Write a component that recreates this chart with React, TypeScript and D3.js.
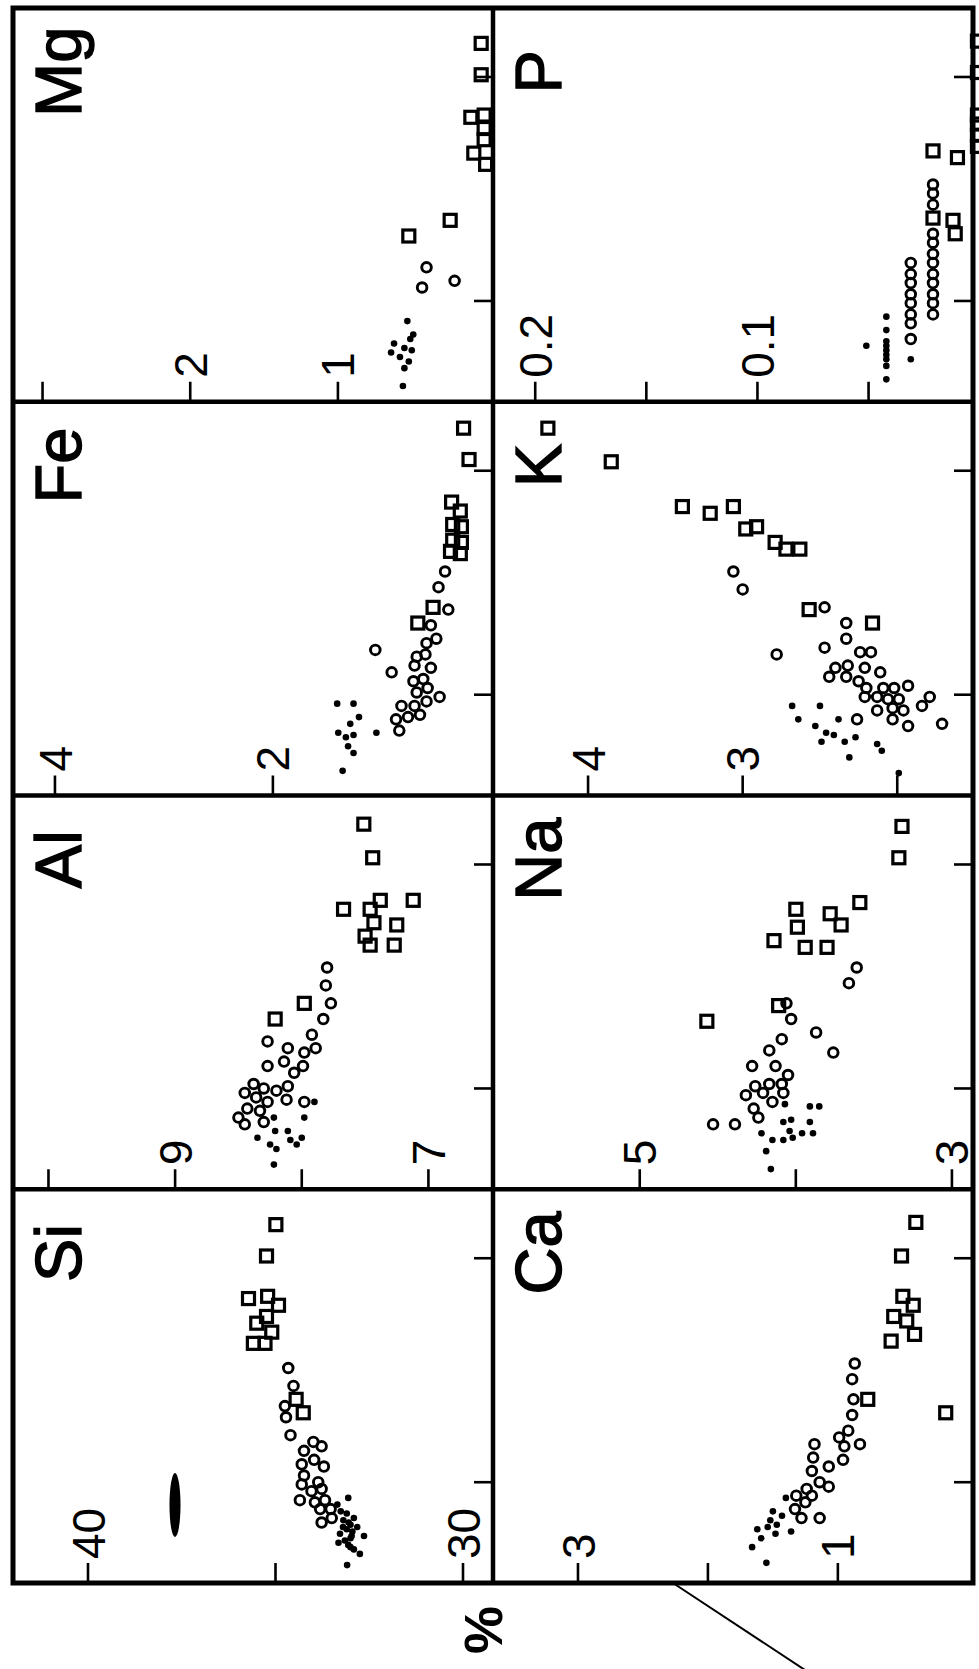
import * as d3 from 'd3'

// Rotated figure: 8 element panels (wt %) against a shared, unlabelled x variable.
// Values. Each point is [x, value].

const elements = ['Si', 'Al', 'Fe', 'Mg', 'Ca', 'Na', 'K', 'P']

const yDomains = [
  [42, 29.2], [10.28, 6.49], [4.385, -0.02], [3.2, -0.05],
  [3.654, -0.04], [5.94, 2.865], [4.615, 1.51], [0.219, 0.003],
]
const yTicks = [
  [40, 35, 30], [10, 9, 8, 7], [4, 2], [3, 2, 1],
  [3, 2, 1], [5, 4, 3], [4, 3, 2], [0.2, 0.15, 0.1, 0.05],
]
const yTickLabels = [
  [40, 30], [9, 7], [4, 2], [2, 1],
  [3, 1], [5, 3], [4, 3], [0.2, 0.1],
]
const xDomain = [0.55, 2.308]
const xTicks = [1, 2]

const siSquares = [[2.15, 34.99], [2.01, 35.24], [1.82, 35.72], [1.83, 35.21], [1.79, 34.92], [1.71, 35.5], [1.74, 35.24], [1.67, 35.1], [1.62, 35.59], [1.62, 35.28], [1.31, 34.26], [1.37, 34.45]]
const siCircles = [[1.51, 34.66], [1.43, 34.52], [1.34, 34.75], [1.29, 34.72], [1.21, 34.6], [1.18, 33.99], [1.14, 34.24], [1.16, 33.77], [1.08, 34.3], [1.1, 33.97], [1.07, 33.71], [1.03, 34.24], [1.0, 33.86], [0.99, 34.3], [0.96, 34.04], [0.97, 33.77], [0.92, 34.35], [0.91, 33.95], [0.92, 33.68], [0.88, 33.81], [0.88, 33.53], [0.82, 33.77], [0.84, 33.5]]
const siDots = [[0.93, 33.06], [0.9, 33.35], [0.87, 33.26], [0.86, 33.1], [0.84, 32.91], [0.83, 33.19], [0.81, 33.0], [0.8, 32.82], [0.79, 33.1], [0.77, 33.28], [0.76, 32.97], [0.76, 32.64], [0.74, 33.15], [0.73, 33.32], [0.72, 33.06], [0.7, 32.91], [0.63, 33.09], [0.78, 32.95], [0.82, 33.05], [0.75, 33.0], [0.8, 33.2], [0.71, 33.0], [0.68, 32.75]]

const alSquares = [[2.18, 7.51], [2.03, 7.44], [1.8, 7.67], [1.84, 7.38], [1.84, 7.12], [1.8, 7.46], [1.74, 7.43], [1.73, 7.25], [1.68, 7.5], [1.64, 7.46], [1.64, 7.27], [1.31, 8.21], [1.38, 7.98]]
const alCircles = [[1.54, 7.8], [1.46, 7.81], [1.38, 7.77], [1.31, 7.83], [1.24, 7.92], [1.21, 8.27], [1.18, 7.89], [1.18, 8.11], [1.16, 7.98], [1.1, 8.27], [1.12, 8.14], [1.07, 8.06], [1.1, 7.99], [1.02, 8.38], [1.0, 8.3], [0.99, 8.2], [1.01, 8.11], [0.98, 8.45], [0.96, 8.36], [0.94, 8.27], [0.95, 8.12], [0.91, 8.43], [0.9, 8.33], [0.87, 8.5], [0.84, 8.45], [0.85, 8.3], [0.94, 7.98]]
const alDots = [[0.87, 8.22], [0.78, 8.35], [0.81, 8.21], [0.75, 8.25], [0.73, 8.2], [0.81, 8.11], [0.77, 8.09], [0.75, 8.04], [0.78, 8.0], [0.87, 7.98], [0.94, 7.9], [0.66, 8.22]]

const feSquares = [[2.19, 0.25], [2.05, 0.2], [1.86, 0.36], [1.82, 0.28], [1.76, 0.35], [1.75, 0.27], [1.69, 0.35], [1.68, 0.27], [1.64, 0.37], [1.63, 0.28], [1.32, 0.67], [1.39, 0.53]]
const feCircles = [[1.55, 0.42], [1.48, 0.48], [1.38, 0.39], [1.31, 0.55], [1.25, 0.5], [1.23, 0.59], [1.17, 0.68], [1.18, 0.6], [1.13, 0.7], [1.12, 0.55], [1.07, 0.62], [1.06, 0.71], [0.99, 0.47], [1.03, 0.58], [1.01, 0.68], [0.95, 0.82], [0.95, 0.7], [0.97, 0.59], [0.89, 0.87], [0.9, 0.76], [0.91, 0.65], [0.84, 0.84], [1.2, 1.06], [1.1, 0.91]]
const feDots = [[0.96, 1.41], [0.96, 1.26], [0.9, 1.21], [0.87, 1.29], [0.83, 1.4], [0.81, 1.33], [0.82, 1.26], [0.83, 1.05], [0.77, 1.31], [0.74, 1.26], [0.66, 1.36]]

const mgSquares = [[2.15, 0.03], [2.01, 0.03], [1.82, 0.1], [1.83, 0.01], [1.77, 0.01], [1.72, 0.01], [1.66, 0.08], [1.61, 0.0], [1.36, 0.24], [1.29, 0.52]]
const mgCircles = [[1.15, 0.4], [1.06, 0.43], [1.09, 0.21]]
const mgDots = [[0.91, 0.53], [0.85, 0.49], [0.81, 0.62], [0.79, 0.55], [0.78, 0.5], [0.77, 0.64], [0.75, 0.58], [0.73, 0.52], [0.7, 0.55], [0.62, 0.56], [0.83, 0.51]]

const caSquares = [[2.16, 0.4], [2.01, 0.51], [1.83, 0.5], [1.79, 0.42], [1.74, 0.57], [1.72, 0.47], [1.66, 0.41], [1.63, 0.59], [1.37, 0.77], [1.31, 0.17]]
const caCircles = [[1.53, 0.87], [1.46, 0.89], [1.37, 0.88], [1.3, 0.89], [1.23, 0.92], [1.2, 0.99], [1.17, 0.83], [1.16, 0.95], [1.1, 0.96], [1.17, 1.18], [1.11, 1.19], [1.07, 1.07], [1.05, 1.2], [1.0, 1.14], [0.98, 1.07], [0.97, 1.24], [0.94, 1.32], [0.94, 1.2], [0.91, 1.25], [0.88, 1.33], [0.84, 1.28], [0.84, 1.14]]
const caDots = [[0.93, 1.4], [0.87, 1.5], [0.85, 1.43], [0.83, 1.52], [0.81, 1.47], [0.79, 1.62], [0.8, 1.54], [0.77, 1.48], [0.78, 1.36], [0.75, 1.59], [0.71, 1.66], [0.64, 1.55]]

const naSquares = [[2.17, 3.32], [2.03, 3.34], [1.83, 3.59], [1.8, 4.0], [1.72, 3.99], [1.78, 3.78], [1.73, 3.71], [1.66, 4.14], [1.63, 3.94], [1.63, 3.8], [1.37, 4.11], [1.3, 4.57]]
const naCircles = [[1.54, 3.61], [1.47, 3.66], [1.38, 4.06], [1.31, 4.03], [1.25, 3.87], [1.16, 3.76], [1.22, 4.09], [1.17, 4.17], [1.1, 4.28], [1.1, 4.13], [1.06, 4.05], [1.02, 4.17], [1.02, 4.09], [1.01, 4.26], [0.97, 4.32], [0.98, 4.21], [0.94, 4.15], [0.98, 4.08], [0.91, 4.27], [0.87, 4.24], [0.84, 4.53], [0.84, 4.39]]
const naDots = [[0.93, 4.07], [0.92, 3.91], [0.92, 3.85], [0.85, 3.91], [0.85, 4.08], [0.86, 4.03], [0.81, 4.04], [0.8, 3.96], [0.8, 3.89], [0.8, 4.22], [0.77, 4.15], [0.77, 4.08], [0.72, 4.19], [0.64, 4.16], [0.78, 4.02]]

const kSquares = [[2.19, 4.26], [2.04, 3.85], [1.84, 3.39], [1.81, 3.21], [1.84, 3.06], [1.74, 2.98], [1.75, 2.91], [1.68, 2.79], [1.65, 2.72], [1.65, 2.63], [1.38, 2.57], [1.32, 2.16]]
const kCircles = [[1.55, 3.06], [1.47, 3.0], [1.39, 2.47], [1.32, 2.33], [1.25, 2.33], [1.21, 2.47], [1.18, 2.78], [1.19, 2.24], [1.19, 2.17], [1.12, 2.4], [1.13, 2.32], [1.08, 2.44], [1.08, 2.33], [1.12, 2.21], [1.06, 2.25], [1.1, 2.11], [1.03, 2.2], [1.03, 2.09], [1.03, 2.02], [1.04, 1.93], [0.99, 2.21], [0.99, 2.13], [0.98, 2.06], [0.98, 1.99], [0.93, 2.13], [0.94, 2.03], [0.93, 1.96], [0.95, 1.84], [0.99, 1.79], [0.89, 2.03], [0.89, 2.26], [0.86, 1.93], [0.87, 1.71]]
const kDots = [[0.95, 2.68], [0.89, 2.64], [0.95, 2.5], [0.86, 2.53], [0.83, 2.46], [0.82, 2.41], [0.89, 2.38], [0.79, 2.49], [0.79, 2.34], [0.81, 2.27], [0.72, 2.31], [0.78, 2.13], [0.75, 2.1], [0.65, 1.99]]

const pSquares = [[1.67, 0.021], [1.64, 0.01], [1.37, 0.021], [1.36, 0.012], [1.3, 0.011], [2.16, 0.001], [2.02, 0.001], [1.83, 0.001], [1.79, 0.001], [1.74, 0.001], [1.69, 0.001]]
const pCircles = [[1.52, 0.021], [1.48, 0.021], [1.43, 0.021], [1.3, 0.021], [1.26, 0.021], [1.21, 0.021], [1.17, 0.021], [1.12, 0.021], [1.08, 0.021], [1.03, 0.021], [0.99, 0.021], [0.94, 0.021], [1.17, 0.031], [1.12, 0.031], [1.08, 0.031], [1.03, 0.031], [0.99, 0.031], [0.94, 0.031], [0.9, 0.031], [0.83, 0.031]]
const pDots = [[0.93, 0.042], [0.87, 0.042], [0.82, 0.042], [0.8, 0.042], [0.78, 0.042], [0.76, 0.042], [0.74, 0.042], [0.71, 0.042], [0.65, 0.042], [0.8, 0.051], [0.74, 0.031]]

const squares = [siSquares, alSquares, feSquares, mgSquares, caSquares, naSquares, kSquares, pSquares]
const circles = [siCircles, alCircles, feCircles, mgCircles, caCircles, naCircles, kCircles, pCircles]
const dots = [siDots, alDots, feDots, mgDots, caDots, naDots, kDots, pDots]

const W = 979
const H = 1669
// unrotated frame size
const FW = 1575
const FH = 960
const PW = FW / 4
const PH = FH / 2
const FONT = 'Liberation Sans, Arial, Helvetica, sans-serif'

function Panel({ i }: { i: number }) {
  const col = i % 4
  const row = Math.floor(i / 4)
  const x = d3.scaleLinear().domain(xDomain).range([0, PW])
  const y = d3.scaleLinear().domain(yDomains[i]).range([0, PH])
  const fmt = (v: number) => (v < 1 ? d3.format('.1f')(v) : String(v))

  return (
    <g transform={`translate(${col * PW},${row * PH})`}>
      {yTicks[i].map(t => (
        <line key={'yt' + t} x1={0} x2={20} y1={y(t)} y2={y(t)} stroke="#000" strokeWidth={2.6} />
      ))}
      {yTickLabels[i].map(t => (
        <text key={'yl' + t} x={24} y={y(t)} dy="0.36em" fontSize={46} fontFamily={FONT}>
          {fmt(t)}
        </text>
      ))}
      {xTicks.map(t => (
        <line key={'xt' + t} x1={x(t)} x2={x(t)} y1={PH} y2={PH - 19} stroke="#000" strokeWidth={2.6} />
      ))}
      <text x={330} y={68} textAnchor="middle" fontSize={65} fontFamily={FONT}
        stroke="#000" strokeWidth={1.4}>
        {elements[i]}
      </text>
      {squares[i].map((d, k) => (
        <rect key={'s' + k} x={x(d[0]) - 6} y={y(d[1]) - 6} width={12} height={12}
          fill="none" stroke="#000" strokeWidth={3.2} />
      ))}
      {circles[i].map((d, k) => (
        <circle key={'c' + k} cx={x(d[0])} cy={y(d[1])} r={4.8} fill="none" stroke="#000" strokeWidth={2.9} />
      ))}
      {dots[i].map((d, k) => (
        <circle key={'d' + k} cx={x(d[0])} cy={y(d[1])} r={3.3} fill="#000" />
      ))}
    </g>
  )
}

export default function App() {
  return (
    <svg width={W} height={H} viewBox={`0 0 ${W} ${H}`}
      style={{ position: 'absolute', left: 0, top: 0, background: '#fff' }}>
      <rect width={W} height={H} fill="#fff" />
      <g transform="translate(13,1583) rotate(-90)">
        {elements.map((_, i) => <Panel key={i} i={i} />)}
        {/* ink smudge on the scan */}
        <ellipse cx={78} cy={162} rx={32} ry={5.5} fill="#000" />
        {/* frame */}
        <rect x={0} y={0} width={FW} height={FH} fill="none" stroke="#000" strokeWidth={5} />
        {[1, 2, 3].map(k => (
          <line key={k} x1={k * PW} x2={k * PW} y1={0} y2={FH} stroke="#000" strokeWidth={4.5} />
        ))}
        <line x1={0} x2={FW} y1={PH} y2={PH} stroke="#000" strokeWidth={4.5} />
        <text x={-47} y={470} dy="0.36em" textAnchor="middle" fontSize={54} fontWeight="bold" fontFamily={FONT}>
          %
        </text>
      </g>
      <line x1={673} y1={1583} x2={808} y2={1672} stroke="#000" strokeWidth={2} />
    </svg>
  )
}
